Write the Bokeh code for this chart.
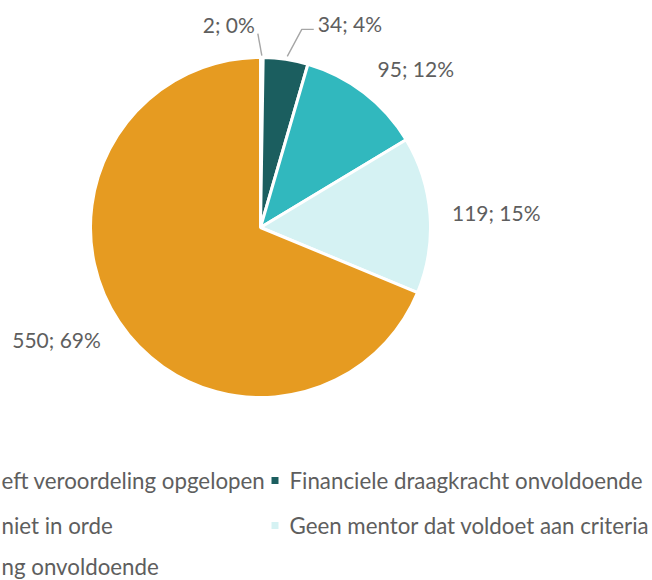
import math
from bokeh.plotting import figure
from bokeh.models import Range1d, ColumnDataSource
from bokeh.embed import file_html
from bokeh.resources import INLINE
from bokeh.core.properties import value

# ---- data ----
categories = ["Heeft veroordeling opgelopen", "Financiele draagkracht onvoldoende",
              "niet in orde", "Geen mentor dat voldoet aan criteria", "ng onvoldoende"]
legend_visible = ["eft veroordeling opgelopen", "Financiele draagkracht onvoldoende",
                  "niet in orde", "Geen mentor dat voldoet aan criteria", "ng onvoldoende"]
counts = [2, 34, 95, 119, 550]
colors = ["#8C8C8C", "#1B5E5F", "#31B8BE", "#D5F2F3", "#E69B21"]

# ---- layout (pixel coordinates of the picture; y is negated for the data space) ----
CX, CY, R = 260, 227, 170
FONT = "Lato"
FS_LABEL = "21px"
FS_LEGEND = "22.3px"
TXT = "#5E5E5E"
LEAD = "#A6A6A6"

p = figure(width=652, height=580, x_range=Range1d(0, 652), y_range=Range1d(-580, 0),
           output_backend="svg", toolbar_location=None, min_border=0,
           x_axis_type=None, y_axis_type=None)
p.grid.visible = False
p.outline_line_color = None
p.background_fill_color = "white"
p.border_fill_color = "white"

total = sum(counts)
fracs = [c / total for c in counts]
cum = [0.0]
for f in fracs:
    cum.append(cum[-1] + f)
starts = [math.pi / 2 - 2 * math.pi * cum[i + 1] for i in range(len(counts))]
ends = [math.pi / 2 - 2 * math.pi * cum[i] for i in range(len(counts))]
mids = [2 * math.pi * (cum[i] + cum[i + 1]) / 2 for i in range(len(counts))]  # clockwise from top

src = ColumnDataSource(dict(x=[CX] * len(counts), y=[-CY] * len(counts),
                            start=starts, end=ends, color=colors))
p.wedge(x="x", y="y", radius=R, start_angle="start", end_angle="end",
        direction="anticlock", fill_color="color", line_color="white",
        line_width=3, source=src)

labels = [f"{c}; {round(100 * c / total)}%" for c in counts]

# outside-end labels for the larger slices
lx, ly, la = [], [], []
for i in range(2, len(counts)):
    dx, dy = math.sin(mids[i]), -math.cos(mids[i])
    ax = CX + (R + 22) * dx
    ay = CY + (R + 22) * dy + dy * 9
    lx.append(ax)
    ly.append(-ay)
    la.append("left" if dx > 0.1 else ("right" if dx < -0.1 else "center"))
p.text(x=lx, y=ly, text=labels[2:], text_align=la, text_baseline="middle",
       text_font=value(FONT), text_font_size=value(FS_LABEL), text_color=TXT)

# small slices: labels with leader lines
e0 = (CX + R * math.sin(mids[0]), CY - R * math.cos(mids[0]))
e1 = (CX + R * math.sin(mids[1]), CY - R * math.cos(mids[1]))
l0 = [(e0[0], e0[1] - 2), (e0[0] - 4, e0[1] - 24)]
l1 = [(e1[0] + 1.5, e1[1] - 3), (e1[0] + 16, e1[1] - 30), (e1[0] + 28, e1[1] - 30)]
p.line(x=[q[0] for q in l0], y=[-q[1] for q in l0], line_color=LEAD, line_width=1.4)
p.line(x=[q[0] for q in l1], y=[-q[1] for q in l1], line_color=LEAD, line_width=1.4)
p.text(x=[l0[-1][0] - 3, l1[-1][0] + 4], y=[-(l0[-1][1] - 9), -(l1[-1][1] - 6)],
       text=labels[:2], text_align=["right", "left"], text_baseline="middle",
       text_font=value(FONT), text_font_size=value(FS_LABEL), text_color=TXT)

# legend (cropped on the left as in the reference)
rows_y = [480, 525, 566]
col_text_x = [1, 289]
col_marker_x = [-15, 274.5]
gx, gy, gt, mx, my, mc = [], [], [], [], [], []
for i, t in enumerate(legend_visible):
    r, c = divmod(i, 2)
    gx.append(col_text_x[c])
    gy.append(-rows_y[r])
    gt.append(t)
    mx.append(col_marker_x[c])
    my.append(-rows_y[r])
    mc.append(colors[i])
p.scatter(x=mx, y=my, marker="square", size=7, fill_color=mc, line_color=None)
p.text(x=gx, y=gy, text=gt, text_align="left", text_baseline="middle",
       text_font=value(FONT), text_font_size=value(FS_LEGEND), text_color=TXT)

open("out.html", "w").write(file_html(p, INLINE))
